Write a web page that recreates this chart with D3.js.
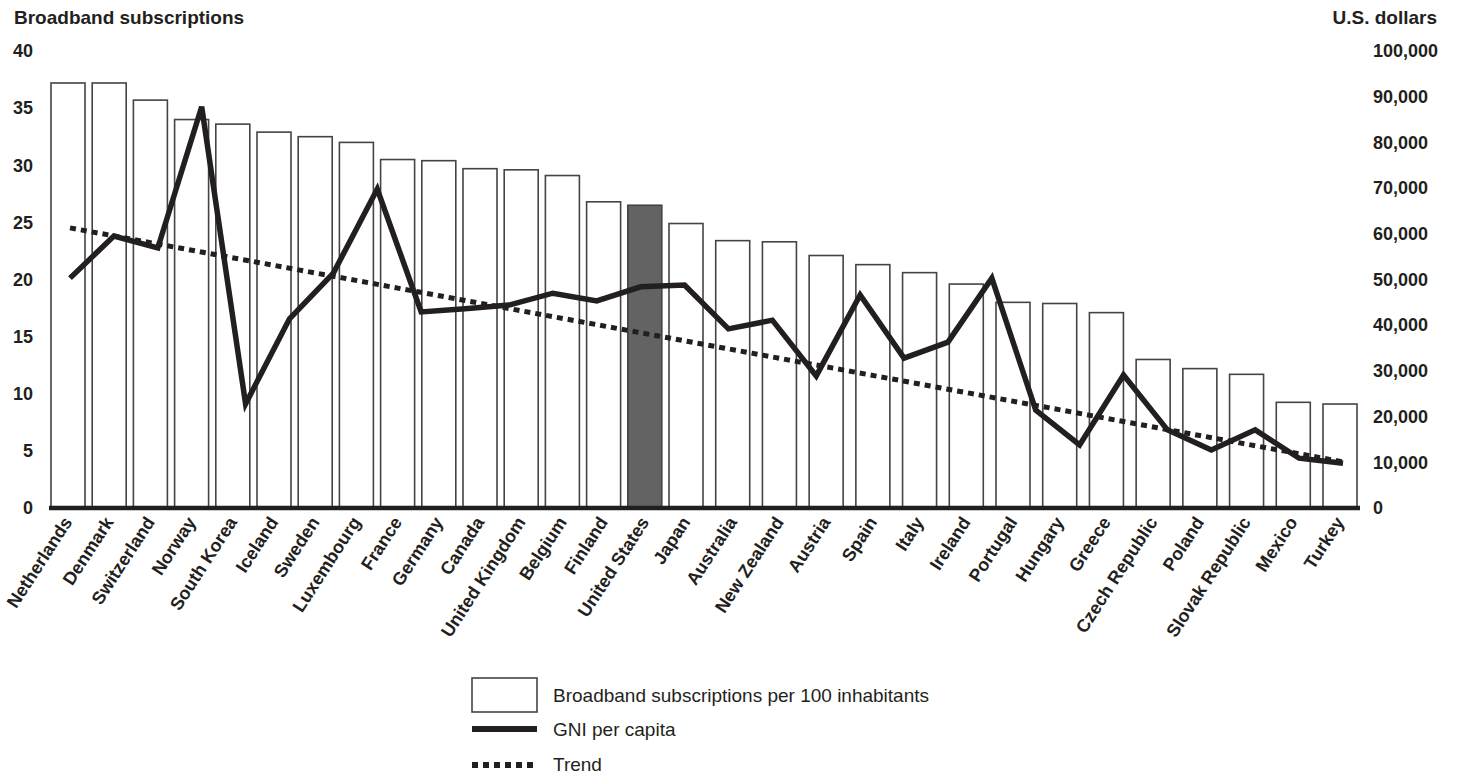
<!DOCTYPE html>
<html>
<head>
<meta charset="utf-8">
<script src="https://cdnjs.cloudflare.com/ajax/libs/d3/7.8.5/d3.min.js"></script>
<style>
body { margin: 0; background: #fff; }
text { font-family: "Liberation Sans", Arial, Helvetica, sans-serif; fill: #231f20; }
</style>
</head>
<body>
<div id="chart"></div>
<script>
// countries, in order of broadband subscriptions
var countries = ["Netherlands", "Denmark", "Switzerland", "Norway", "South Korea", "Iceland", "Sweden",
  "Luxembourg", "France", "Germany", "Canada", "United Kingdom", "Belgium", "Finland", "United States",
  "Japan", "Australia", "New Zealand", "Austria", "Spain", "Italy", "Ireland", "Portugal", "Hungary",
  "Greece", "Czech Republic", "Poland", "Slovak Republic", "Mexico", "Turkey"];

// broadband subscriptions per 100 inhabitants
var broadband = [37.2, 37.2, 35.7, 34.0, 33.6, 32.9, 32.5, 32.0, 30.5, 30.4, 29.7, 29.6, 29.1, 26.8, 26.5,
  24.9, 23.4, 23.3, 22.1, 21.3, 20.6, 19.6, 18.0, 17.9, 17.1, 13.0, 12.2, 11.7, 9.25, 9.1];

// GNI per capita, U.S. dollars
var gni = [50300, 59500, 56900, 87800, 22800, 41400, 51400, 69800, 42900, 43600, 44400, 47000, 45300, 48400,
  48800, 39200, 41100, 28900, 46600, 32800, 36300, 50300, 21400, 13800, 29100, 17100, 12700, 17100, 10900, 9800];

// trend line end values (first and last country)
var trendEnds = [61300, 10100];

var leftTicks = [0, 5, 10, 15, 20, 25, 30, 35, 40];
var rightTicks = [0, 10000, 20000, 30000, 40000, 50000, 60000, 70000, 80000, 90000, 100000];

var highlight = "United States";

var width = 1458;
var height = 774;
var y0 = 508, y1 = 51;

var svg = d3.select("#chart").append("svg")
  .attr("width", width)
  .attr("height", height);

// bars are not evenly spaced in the original, the line is
var barX = d3.scaleLinear().domain([0, 15, 29]).range([51, 669, 1323]);
var barW = 34;
var lineX = d3.scalePoint().domain(countries).range([70, 1343]);

var yLeft = d3.scaleLinear().domain([0, 40]).range([y0, y1]);
var yRight = d3.scaleLinear().domain([0, 100000]).range([y0, y1]);

// bars
svg.append("g").selectAll("rect")
  .data(countries)
  .enter().append("rect")
  .attr("x", function(d, i) { return barX(i); })
  .attr("y", function(d, i) { return yLeft(broadband[i]); })
  .attr("width", barW)
  .attr("height", function(d, i) { return y0 - yLeft(broadband[i]); })
  .attr("fill", function(d) { return d == highlight ? "#636363" : "#fff"; })
  .attr("stroke", "#444")
  .attr("stroke-width", 1.6);

// trend
var trendLine = d3.line()
  .x(function(d) { return lineX(d[0]); })
  .y(function(d) { return yRight(d[1]); });

svg.append("path")
  .datum([[countries[0], trendEnds[0]], [countries[countries.length - 1], trendEnds[1]]])
  .attr("d", trendLine)
  .attr("fill", "none")
  .attr("stroke", "#231f20")
  .attr("stroke-width", 5)
  .attr("stroke-dasharray", "6,5");

// GNI line
var gniLine = d3.line()
  .x(function(d) { return lineX(d); })
  .y(function(d, i) { return yRight(gni[i]); });

svg.append("path")
  .datum(countries)
  .attr("d", gniLine)
  .attr("fill", "none")
  .attr("stroke", "#231f20")
  .attr("stroke-width", 5.5)
  .attr("stroke-linejoin", "miter");

// baseline
svg.append("line")
  .attr("x1", 49).attr("x2", 1360)
  .attr("y1", y0).attr("y2", y0)
  .attr("stroke", "#231f20")
  .attr("stroke-width", 4.5);

// axes
var leftAxis = svg.append("g")
  .attr("transform", "translate(33,0)")
  .call(d3.axisLeft(yLeft).tickValues(leftTicks).tickSize(0).tickPadding(0));

var rightAxis = svg.append("g")
  .attr("transform", "translate(1373,0)")
  .call(d3.axisRight(yRight).tickValues(rightTicks).tickSize(0).tickPadding(0).tickFormat(d3.format(",")));

svg.selectAll(".domain").remove();
svg.selectAll(".tick text")
  .attr("font-family", "Liberation Sans, Arial, sans-serif")
  .attr("font-size", 18)
  .attr("font-weight", "bold")
  .attr("fill", "#231f20");

// axis titles
svg.append("text")
  .attr("x", 14).attr("y", 24)
  .attr("font-size", 19).attr("font-weight", "bold")
  .text("Broadband subscriptions");

svg.append("text")
  .attr("x", 1437).attr("y", 24)
  .attr("text-anchor", "end")
  .attr("font-size", 19).attr("font-weight", "bold")
  .text("U.S. dollars");

// country labels
svg.append("g").selectAll("text")
  .data(countries)
  .enter().append("text")
  .attr("text-anchor", "end")
  .attr("font-size", 18)
  .attr("font-weight", "bold")
  .attr("transform", function(d, i) {
    return "translate(" + (barX(i) + barW / 2 + 5) + ",522) rotate(-57)";
  })
  .text(function(d) { return d; });

// legend
var legend = svg.append("g");

legend.append("rect")
  .attr("x", 472).attr("y", 678)
  .attr("width", 65).attr("height", 34)
  .attr("fill", "#fff")
  .attr("stroke", "#444")
  .attr("stroke-width", 1.6);

legend.append("line")
  .attr("x1", 472).attr("x2", 537)
  .attr("y1", 729).attr("y2", 729)
  .attr("stroke", "#231f20")
  .attr("stroke-width", 6);

legend.append("line")
  .attr("x1", 472).attr("x2", 537)
  .attr("y1", 765).attr("y2", 765)
  .attr("stroke", "#231f20")
  .attr("stroke-width", 6)
  .attr("stroke-dasharray", "6,5");

var legendText = ["Broadband subscriptions per 100 inhabitants", "GNI per capita", "Trend"];
var legendY = [702, 736, 771];

legend.selectAll(".ltext")
  .data(legendText)
  .enter().append("text")
  .attr("class", "ltext")
  .attr("x", 553)
  .attr("y", function(d, i) { return legendY[i]; })
  .attr("font-size", 19)
  .text(function(d) { return d; });
</script>
</body>
</html>
